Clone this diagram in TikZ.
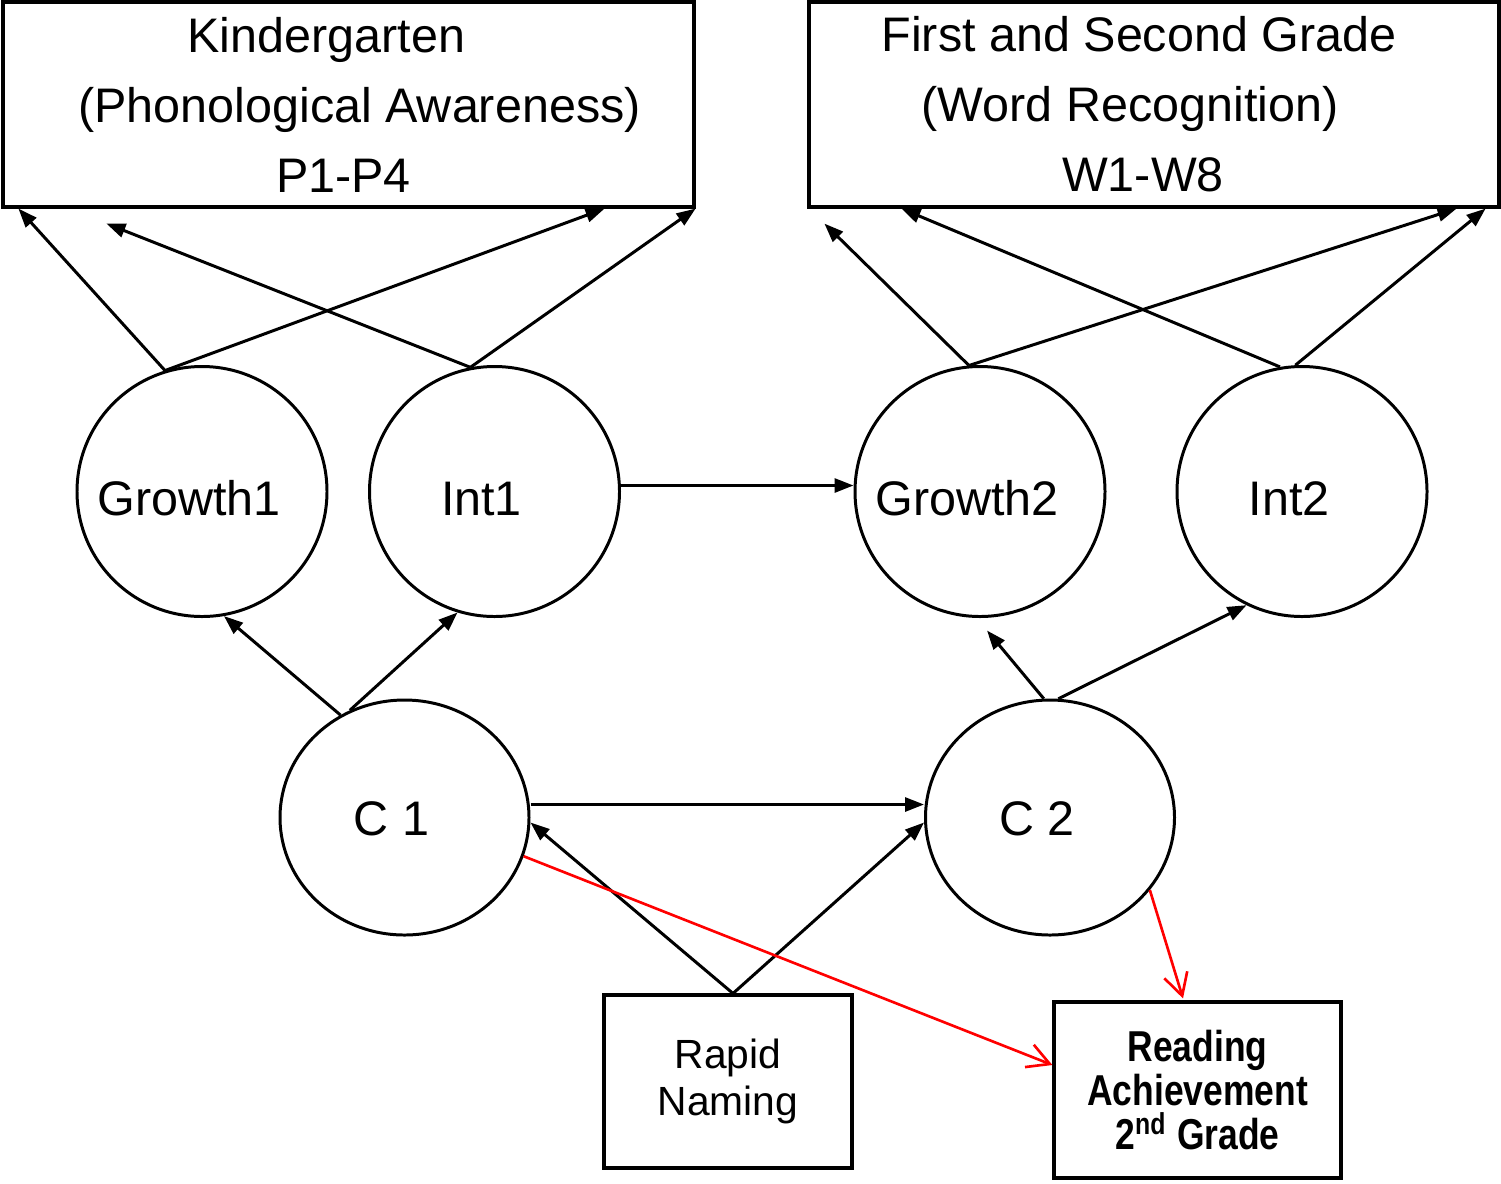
\documentclass[tikz,border=0pt]{standalone}
\usepackage{fontspec}
\setmainfont{Liberation Sans}
\newfontfamily\narrowbold[FakeStretch=0.82]{Liberation Sans Bold}
\usepackage{tikz}
\usetikzlibrary{positioning,arrows.meta,calc,shapes.geometric}
\definecolor{pmRed}{RGB}{255,0,0}
\tikzset{
    base/.style={align=center, inner sep=0pt},
    grade/.style={base, rectangle, draw, line width=0.9pt, minimum width=6.91cm,
                  minimum height=2.05cm, font=\fontsize{13.8}{19.9}\selectfont},
    factor/.style={base, circle, draw, line width=0.85pt, minimum size=2.5cm,
                   text height=0.47cm, text depth=0cm,
                   execute at end node={\hspace*{2.6mm}},
                   font=\fontsize{13.8}{16}\selectfont},
    slope/.style={factor, ellipse, minimum size=0pt, minimum width=2.49cm,
                  minimum height=2.35cm, text height=0.355cm},
    measure/.style={base, rectangle, draw, line width=0.9pt},
    flow/.style={-{Triangle[length=1.9mm,width=1.4mm]}, line width=0.85pt},
    effect/.style={-{Straight Barb[length=2.2mm,width=2.4mm]}, line width=0.75pt, color=pmRed}
}

\begin{document}
\begin{tikzpicture}
  \useasboundingbox (0,0) rectangle (15.01,-11.83);

  % Indicator blocks
  \node[grade] (kg) at (3.485,-1.045)
    {Kindergarten\rule{0.44cm}{0pt}\\\rule{0.22cm}{0pt}(Phonological Awareness)\\P1-P4\rule{0.1cm}{0pt}};
  \node[grade, minimum width=6.90cm] (wr) at (11.54,-1.045)
    {First and Second Grade\rule{0.3cm}{0pt}\\(Word Recognition)\rule{0.48cm}{0pt}\\W1-W8\rule{0.22cm}{0pt}};

  % Growth factors
  \node[factor] (g1) at (2.02,-4.915) {Growth1};
  \node[factor] (i1) at (4.945,-4.915) {Int1};
  \node[factor] (g2) at (9.80,-4.915) {Growth2};
  \node[factor] (i2) at (13.02,-4.915) {Int2};

  \node[slope] (c1) at (4.045,-8.175) {C 1};
  \node[slope] (c2) at (10.50,-8.175) {C 2};

  \node[measure, minimum width=2.48cm, minimum height=1.73cm,
        font=\fontsize{11.6}{13.4}\selectfont] (rn) at (7.28,-10.815) {Rapid\\Naming};
  \node[measure, minimum width=2.87cm, minimum height=1.76cm,
        font=\narrowbold\fontsize{12.3}{12.5}\selectfont] (ra) at (11.975,-10.9) {Reading\\Achievement\\2\textsuperscript{nd} Grade};

  % Loadings
  \draw[flow] (g1.107) -- ($(kg.south west)+(0.17,0)$);
  \draw[flow] (g1.107) -- ($(kg.south east)+(-0.91,0)$);
  \draw[flow] (i1.101) -- ($(kg.south west)+(1.05,-0.15)$);
  \draw[flow] (i1.101) -- (kg.south east);
  \draw[flow] (g2.95) -- ($(wr.south west)+(0.17,-0.15)$);
  \draw[flow] (g2.95) -- ($(wr.south east)+(-0.44,0)$);
  \draw[flow] (i2.100) -- ($(wr.south west)+(0.94,0)$);
  \draw[flow] (i2.93) -- ($(wr.south east)+(-0.15,0)$);

  % Structural paths
  \draw[flow] ([yshift=0.6mm]i1.east) -- ([yshift=0.6mm]g2.west);
  \draw[flow] (c1.122) -- (g1.280);
  \draw[flow] (c1.117) -- (i1.253);
  \draw[flow] (c2.93) -- ($(g2.center)+(0.07,-1.39)$);
  \draw[flow] (c2.86) -- (i2.244);
  \draw[flow] ([yshift=1.3mm]c1.east) -- ([yshift=1.3mm]c2.west);
  \draw[flow] ([xshift=0.5mm]rn.north) -- ([yshift=-0.5mm]c1.east);
  \draw[flow] ([xshift=0.5mm]rn.north) -- ([yshift=-0.5mm]c2.west);

  % Outcome
  \draw[effect] (c1.-18) -- ($(ra.west)+(0,0.25)$);
  \draw[effect] (c2.-36) -- ($(ra.north)+(-0.145,0.02)$);
\end{tikzpicture}
\end{document}
